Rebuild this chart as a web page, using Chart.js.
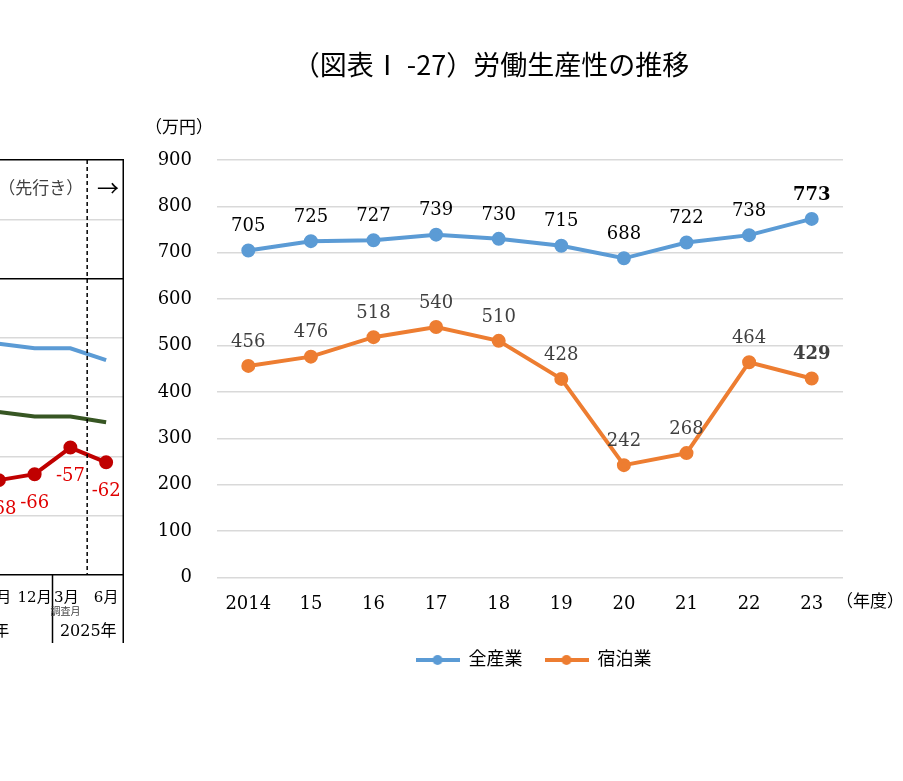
<!DOCTYPE html>
<html lang="ja">
<head>
<meta charset="utf-8">
<title>労働生産性の推移</title>
<script src="https://cdn.jsdelivr.net/npm/chart.js@4.4.1/dist/chart.umd.min.js"></script>
<style>
  html, body { margin: 0; padding: 0; background: #fff; }
  body { width: 903px; height: 781px; position: relative; overflow: hidden; }
  #left-chart { position: absolute; left: -200px; top: 0; }
  #main-chart { position: absolute; left: 0; top: 0; }
  #title { position: absolute; top: 44px; left: 241px; width: 500px; text-align: center;
           font-family: 'Noto Sans CJK JP', sans-serif; font-size: 27px; color: #000; }
</style>
</head>
<body>
<canvas id="left-chart" width="324" height="781"></canvas>
<canvas id="main-chart" width="903" height="781"></canvas>
<div id="title">（図表Ⅰ -27）労働生産性の推移</div>
<script>
'use strict';

// main chart data (万円)
const years = ['2014', '15', '16', '17', '18', '19', '20', '21', '22', '23'];
const allIndustry = [705, 725, 727, 739, 730, 715, 688, 722, 738, 773];
const lodging = [456, 476, 518, 540, 510, 428, 242, 268, 464, 429];
const seriesNames = ['全産業', '宿泊業'];
const yMin = 0, yMax = 900, yStep = 100;

// the neighbouring chart, cut off at the left edge
const diMonths = ['9月', '12月', '3月', '6月'];
const diYears = [{ label: '2024年', from: -2, to: 1 }, { label: '2025年', from: 2, to: 3 }];
const diBlue = [-22, -23.5, -23.5, -27.5];
const diGreen = [-45, -46.5, -46.5, -48.5];
const diRed = [-68, -66, -57, -62];
const diMin = -100, diMax = 40, diStep = 20;

const blue = '#5b9bd5';
const orange = '#ed7d31';
const grid = '#d9d9d9';
const serif = '"DejaVu Serif", "Noto Sans CJK JP", serif';

// ---------- left (cropped) chart ----------
const leftExtras = {
  id: 'leftExtras',
  afterDraw(chart) {
    const ctx = chart.ctx;
    const a = chart.chartArea;
    const x = chart.scales.x;
    const step = x.getPixelForValue(1) - x.getPixelForValue(0);
    const at = i => x.getPixelForValue(0) + i * step;
    ctx.save();
    // right border and group separator
    ctx.strokeStyle = '#000';
    ctx.lineWidth = 1.5;
    ctx.beginPath();
    ctx.moveTo(a.right - 0.75, a.top);
    ctx.lineTo(a.right - 0.75, 643);
    const sep = at(1.5);
    ctx.moveTo(sep, a.bottom);
    ctx.lineTo(sep, 643);
    ctx.stroke();
    // dashed forecast line
    ctx.setLineDash([4, 3]);
    ctx.beginPath();
    const dx = at(2.47);
    ctx.moveTo(dx, a.top);
    ctx.lineTo(dx, a.bottom);
    ctx.stroke();
    ctx.setLineDash([]);
    // forecast caption
    ctx.textBaseline = 'middle';
    ctx.textAlign = 'right';
    ctx.fillStyle = '#404040';
    ctx.font = '17px ' + serif;
    ctx.fillText('（先行き）', dx - 4, 190);
    ctx.fillStyle = '#000';
    ctx.font = '22px "Noto Sans CJK JP"';
    ctx.fillText('→', a.right - 5, 188);
    // red value labels
    const meta = chart.getDatasetMeta(2);
    ctx.fillStyle = '#e00000';
    ctx.font = '18px ' + serif;
    ctx.textAlign = 'center';
    meta.data.forEach((pt, i) => {
      ctx.fillText(String(diRed[i]), pt.x + (i === 0 ? 3 : 0), pt.y + 29);
    });
    // month labels, survey-month note and year groups
    ctx.fillStyle = '#000';
    ctx.font = '15px ' + serif;
    diMonths.forEach((m, i) => ctx.fillText(m, at(i) - (i === 2 ? 4 : 0), 598));
    ctx.fillStyle = '#404040';
    ctx.font = '10px ' + serif;
    ctx.fillText('調査月', at(2) - 5, 612);
    ctx.fillStyle = '#000';
    ctx.font = '16px ' + serif;
    diYears.forEach(g => ctx.fillText(g.label, at((g.from + g.to) / 2), 632));
    ctx.restore();
  }
};

new Chart(document.getElementById('left-chart'), {
  type: 'line',
  data: {
    labels: diMonths,
    datasets: [
      { data: diBlue, borderColor: blue, borderWidth: 4, pointRadius: 0 },
      { data: diGreen, borderColor: '#375623', borderWidth: 4, pointRadius: 0 },
      { data: diRed, borderColor: '#c00000', backgroundColor: '#c00000', borderWidth: 4,
        pointRadius: 5, pointHoverRadius: 5 }
    ]
  },
  options: {
    responsive: false,
    animation: false,
    events: [],
    layout: { autoPadding: false, padding: { left: 181, right: 0, top: 160, bottom: 206 } },
    plugins: { legend: { display: false }, tooltip: { enabled: false } },
    scales: {
      x: {
        offset: true,
        grid: { display: false, drawTicks: false },
        border: { display: false },
        ticks: { display: false }
      },
      y: {
        min: diMin, max: diMax,
        ticks: { display: false, stepSize: diStep },
        grid: {
          drawTicks: false,
          lineWidth: 1.5,
          color: c => (c.tick && (c.tick.value === 0 || c.tick.value === diMax || c.tick.value === diMin)) ? '#000' : grid
        },
        border: { display: false }
      }
    }
  },
  plugins: [leftExtras]
});

// ---------- main chart ----------
function legendSwatch(color) {
  const c = document.createElement('canvas');
  c.width = 44; c.height = 14;
  const g = c.getContext('2d');
  g.strokeStyle = color;
  g.lineWidth = 4;
  g.beginPath();
  g.moveTo(0, 7);
  g.lineTo(44, 7);
  g.stroke();
  g.fillStyle = color;
  g.beginPath();
  g.arc(22, 7, 5, 0, Math.PI * 2);
  g.fill();
  return c;
}
const swatches = [legendSwatch(blue), legendSwatch(orange)];
const labelColors = ['#000', '#404040'];

const valueLabels = {
  id: 'valueLabels',
  afterLayout(chart) {
    // the legend sits under the plot area, not the whole canvas
    const shift = 42;
    chart.legend.left += shift;
    chart.legend.right += shift;
  },
  afterDatasetsDraw(chart) {
    const ctx = chart.ctx;
    chart.data.datasets.forEach((ds, i) => {
      chart.getDatasetMeta(i).data.forEach((pt, j) => {
        const last = j === ds.data.length - 1;
        ctx.save();
        ctx.font = (last ? 'bold ' : '') + '18px ' + serif;
        ctx.fillStyle = labelColors[i];
        ctx.textAlign = 'center';
        ctx.textBaseline = 'middle';
        ctx.fillText(String(ds.data[j]), pt.x, pt.y - 24);
        ctx.restore();
      });
    });
  },
  afterDraw(chart) {
    const ctx = chart.ctx;
    const a = chart.chartArea;
    ctx.save();
    ctx.fillStyle = '#000';
    ctx.font = '17px ' + serif;
    ctx.textBaseline = 'middle';
    ctx.textAlign = 'center';
    ctx.fillText('（万円）', 179, 129);
    ctx.textAlign = 'left';
    ctx.fillText('（年度）', a.right - 7, 603);
    ctx.restore();
  }
};

new Chart(document.getElementById('main-chart'), {
  type: 'line',
  data: {
    labels: years,
    datasets: [
      { label: seriesNames[0], data: allIndustry, borderColor: blue, backgroundColor: blue,
        borderWidth: 4, pointRadius: 5, pointHoverRadius: 5, tension: 0 },
      { label: seriesNames[1], data: lodging, borderColor: orange, backgroundColor: orange,
        borderWidth: 4, pointRadius: 5, pointHoverRadius: 5, tension: 0 }
    ]
  },
  options: {
    responsive: false,
    animation: false,
    events: [],
    layout: { padding: { left: 140, right: 60, top: 160, bottom: 102 } },
    plugins: {
      tooltip: { enabled: false },
      legend: {
        position: 'bottom',
        labels: {
          usePointStyle: true,
          pointStyleWidth: 44,
          padding: 22,
          color: '#000',
          font: { family: serif, size: 18 },
          generateLabels(chart) {
            const items = Chart.defaults.plugins.legend.labels.generateLabels(chart);
            items.forEach((it, i) => { it.pointStyle = swatches[i]; });
            return items;
          }
        }
      }
    },
    scales: {
      x: {
        offset: true,
        grid: { display: false, drawTicks: false },
        border: { display: false },
        ticks: { color: '#000', font: { family: serif, size: 18 }, padding: 16, maxRotation: 0 },
        afterFit(s) { s.height -= 2; }
      },
      y: {
        min: yMin, max: yMax,
        ticks: { stepSize: yStep, color: '#000', font: { family: serif, size: 18 }, padding: 25 },
        grid: { color: grid, lineWidth: 1.5, drawTicks: false },
        border: { display: false },
        afterFit(s) { s.width = 77; }
      }
    }
  },
  plugins: [valueLabels]
});
</script>
</body>
</html>
